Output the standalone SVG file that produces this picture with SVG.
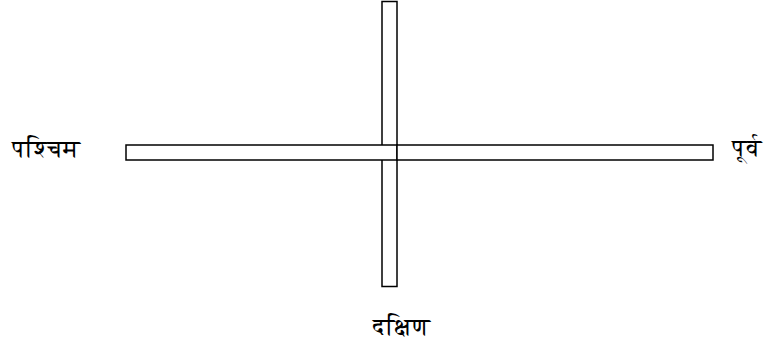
<svg xmlns="http://www.w3.org/2000/svg" width="765" height="348" viewBox="0 0 765 348">
<style>
.bar{fill:#fff;stroke:#000;stroke-width:1.5}
.lbl{font-family:FreeSerif,"Noto Serif Devanagari",serif;font-size:24px;fill:#000}
</style>
<rect width="765" height="348" fill="#fff"/>
<g id="connectors">
<rect class="bar" x="382" y="1.5" width="15" height="285"/>
<rect class="bar" x="126" y="145" width="271" height="15"/>
<rect class="bar" x="397" y="145" width="316" height="15"/>
</g>
<g id="west"><text class="lbl" x="12" y="157">पश्चिम</text></g>
<g id="east"><text class="lbl" x="732" y="156">पूर्व</text></g>
<g id="south"><text class="lbl" x="373" y="335">दक्षिण</text></g>
</svg>
